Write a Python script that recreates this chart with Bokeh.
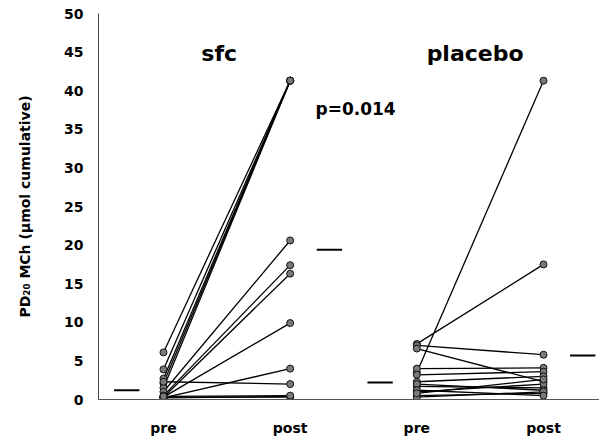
from bokeh.plotting import figure
from bokeh.models import FixedTicker, Range1d
from bokeh.core.properties import value
from bokeh.embed import file_html
from bokeh.resources import INLINE

# ---- data ----
groups = ["sfc", "placebo"]
tick_labels = ["pre", "post", "pre", "post"]

sfc_pre = [6.1, 3.9, 2.7, 2.1, 1.5, 1.0, 0.5, 0.3, 0.3, 0.2, 2.3, 0.2, 0.3, 0.4]
sfc_post = [41.3, 41.3, 41.3, 41.3, 41.3, 20.6, 17.4, 16.3, 9.9, 4.0, 2.0, 0.4, 0.3, 0.5]

placebo_pre = [3.5, 7.2, 7.0, 6.6, 4.0, 3.2, 2.3, 1.7, 1.0, 2.0, 0.5, 0.3, 1.2, 0.8]
placebo_post = [41.3, 17.5, 5.8, 2.3, 4.1, 3.6, 3.0, 1.5, 2.0, 1.2, 0.8, 1.0, 0.5, 2.6]

sfc_means = [1.2, 19.4]
placebo_means = [2.2, 5.7]

p_value_text = "p=0.014"

FONT = "DejaVu Sans"

p = figure(width=599, height=441, output_backend="svg", toolbar_location=None,
           x_range=Range1d(-0.513, 3.442), y_range=Range1d(0, 50),
           min_border_left=98, min_border_right=0, min_border_top=13, min_border_bottom=42)
p.outline_line_color = None
p.xgrid.visible = False
p.ygrid.visible = False
p.background_fill_color = "white"
p.border_fill_color = "white"

series = [(0, sfc_pre, sfc_post, sfc_means), (2, placebo_pre, placebo_post, placebo_means)]
for x0, pre, post, means in series:
    for a, b in zip(pre, post):
        p.line([x0, x0 + 1], [a, b], line_color="black", line_width=1.3)
    p.scatter([x0] * len(pre), pre, size=7, fill_color="#7a7a7a", line_color="#111111", line_width=1)
    p.scatter([x0 + 1] * len(post), post, size=7, fill_color="#7a7a7a", line_color="#111111", line_width=1)
    p.segment(x0=[x0 - 0.39, x0 + 1 + 0.21], y0=means,
              x1=[x0 - 0.19, x0 + 1 + 0.41], y1=means,
              line_color="black", line_width=2)

# group titles
p.text(x=[0.44, 2.46], y=[44.8, 44.8], text=groups, text_font=value(FONT),
       text_font_style="bold", text_font_size="22px", text_align="center",
       text_baseline="middle", text_color="black")
p.text(x=[1.2], y=[37.6], text=[p_value_text], text_font=value(FONT),
       text_font_style="bold", text_font_size="17px", text_align="left",
       text_baseline="middle", text_color="black")

# axes
p.yaxis.ticker = FixedTicker(ticks=[0, 5, 10, 15, 20, 25, 30, 35, 40, 45, 50])
p.yaxis.major_tick_in = 0
p.yaxis.major_tick_out = 0
p.yaxis.minor_tick_in = 0
p.yaxis.minor_tick_out = 0
p.yaxis.axis_line_color = "#444444"
p.yaxis.major_label_standoff = 15
p.yaxis.major_label_text_font = FONT
p.yaxis.major_label_text_font_style = "bold"
p.yaxis.major_label_text_font_size = "14px"
p.yaxis.major_label_text_color = "black"
p.yaxis.axis_label = "PD\u2082\u2080 MCh (\u00b5mol cumulative)"
p.yaxis.axis_label_text_font = FONT
p.yaxis.axis_label_text_font_style = "bold"
p.yaxis.axis_label_text_font_size = "14px"
p.yaxis.axis_label_text_color = "black"
p.yaxis.axis_label_standoff = 28

p.xaxis.ticker = FixedTicker(ticks=[0, 1, 2, 3])
p.xaxis.major_label_overrides = {i: t for i, t in enumerate(tick_labels)}
p.xaxis.major_tick_in = 0
p.xaxis.major_tick_out = 0
p.xaxis.minor_tick_in = 0
p.xaxis.minor_tick_out = 0
p.xaxis.axis_line_color = "#555555"
p.xaxis.major_label_standoff = 20
p.xaxis.major_label_text_font = FONT
p.xaxis.major_label_text_font_style = "bold"
p.xaxis.major_label_text_font_size = "14px"
p.xaxis.major_label_text_color = "black"

open("out.html", "w").write(file_html(p, INLINE))
